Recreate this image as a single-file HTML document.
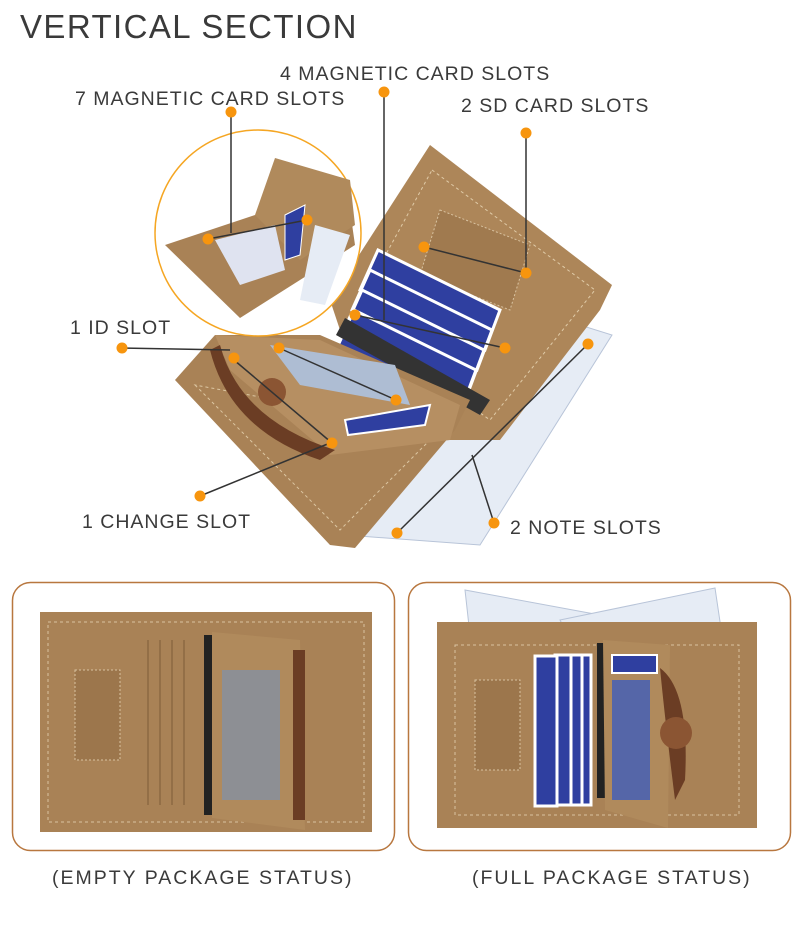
<!DOCTYPE html>
<html><head><meta charset="utf-8"><style>
body{margin:0;background:#fff;width:800px;height:926px;overflow:hidden;font-family:"Liberation Sans",sans-serif}
svg{display:block}
</style></head><body>
<svg width="800" height="926" viewBox="0 0 800 926" xmlns="http://www.w3.org/2000/svg" font-family="Liberation Sans, sans-serif">
<text x="20" y="38" font-size="33" fill="#3a3a3a" letter-spacing="1.4">VERTICAL SECTION</text>
<g font-size="19.5" fill="#3a3a3a" letter-spacing="1">
<text x="280" y="80">4 MAGNETIC CARD SLOTS</text>
<text x="75" y="105">7 MAGNETIC CARD SLOTS</text>
<text x="461" y="112">2 SD CARD SLOTS</text>
<text x="70" y="334">1 ID SLOT</text>
<text x="82" y="528">1 CHANGE SLOT</text>
<text x="510" y="534">2 NOTE SLOTS</text>
</g>
<g font-size="19.5" fill="#3a3a3a" letter-spacing="2">
<text x="52" y="884">(EMPTY PACKAGE STATUS)</text>
<text x="472" y="884">(FULL PACKAGE STATUS)</text>
</g>
<!-- main wallet -->
<polygon points="500,300 612,335 480,545 345,535" fill="#e6ecf5" stroke="#b8c4d8"/>
<polygon points="430,145 612,285 600,310 500,440 420,440 340,330 330,300" fill="#ad8659"/>
<polygon points="432,170 595,290 490,420 350,320" fill="none" stroke="#e0cba8" stroke-dasharray="3,3"/>
<polygon points="440,210 530,245 510,310 420,275" fill="#a07a4f" stroke="#d8c2a0" stroke-dasharray="2,2"/>
<g fill="#2f3fa0" stroke="#fff" stroke-width="3">
<polygon points="378,250 500,310 485,350 360,290"/>
<polygon points="370,270 492,330 477,370 352,310"/>
<polygon points="362,290 484,350 469,390 344,330"/>
<polygon points="354,310 476,370 461,410 336,350"/>
</g>
<polygon points="345,318 490,400 480,415 336,335" fill="#333"/>
<polygon points="175,380 215,335 320,335 470,400 455,430 355,548 330,545" fill="#a98256"/>
<polygon points="195,385 340,530 440,430" fill="none" stroke="#dcc6a2" stroke-dasharray="3,3"/>
<polygon points="215,335 320,340 460,405 450,440 330,455 230,370" fill="#b68f62"/>
<polygon points="270,345 395,365 410,405 300,385" fill="#aebdd3"/>
<polygon points="345,420 430,405 425,425 348,435" fill="#2f3fa0" stroke="#fff" stroke-width="2"/>
<path d="M220,345 Q240,420 335,450 L320,460 Q230,430 210,350Z" fill="#6b3d24"/>
<circle cx="272" cy="392" r="14" fill="#8b5533"/>
<!-- inset circle -->
<circle cx="258" cy="233" r="103" fill="#fff" stroke="#f5a623" stroke-width="1.5"/>
<polygon points="165,245 255,215 350,210 355,245 300,280 240,318" fill="#a98256"/>
<polygon points="255,215 275,158 350,180 355,225 300,260" fill="#b08a5c"/>
<polygon points="215,240 275,225 285,270 240,285" fill="#dfe3f0"/>
<polygon points="285,215 305,205 300,255 285,260" fill="#2f3fa0" stroke="#fff"/>
<polygon points="315,225 350,235 325,305 300,300" fill="#e6ecf5"/>
<!-- leader lines -->
<g stroke="#333" stroke-width="1.5" fill="none">
<line x1="231" y1="112" x2="231" y2="233"/>
<line x1="208" y1="239" x2="307" y2="220"/>
<line x1="384" y1="92" x2="384" y2="320"/>
<line x1="355" y1="315" x2="505" y2="348"/>
<line x1="526" y1="133" x2="526" y2="273"/>
<line x1="424" y1="247" x2="526" y2="273"/>
<line x1="122" y1="348" x2="230" y2="350"/>
<line x1="279" y1="348" x2="396" y2="400"/>
<line x1="234" y1="360" x2="332" y2="443"/>
<line x1="200" y1="496" x2="330" y2="443"/>
<line x1="588" y1="344" x2="397" y2="533"/>
<line x1="494" y1="523" x2="472" y2="455"/>
</g>
<g fill="#f7950e">
<circle cx="231" cy="112" r="5.5"/><circle cx="208" cy="239" r="5.5"/><circle cx="307" cy="220" r="5.5"/>
<circle cx="384" cy="92" r="5.5"/><circle cx="355" cy="315" r="5.5"/><circle cx="505" cy="348" r="5.5"/>
<circle cx="526" cy="133" r="5.5"/><circle cx="424" cy="247" r="5.5"/><circle cx="526" cy="273" r="5.5"/>
<circle cx="122" cy="348" r="5.5"/><circle cx="279" cy="348" r="5.5"/><circle cx="234" cy="358" r="5.5"/>
<circle cx="396" cy="400" r="5.5"/><circle cx="332" cy="443" r="5.5"/><circle cx="200" cy="496" r="5.5"/>
<circle cx="588" cy="344" r="5.5"/><circle cx="397" cy="533" r="5.5"/><circle cx="494" cy="523" r="5.5"/>
</g>
<!-- bottom boxes -->
<rect x="12.5" y="582.5" width="382" height="268" rx="18" fill="#fff" stroke="#b8773f" stroke-width="1.5"/>
<rect x="408.5" y="582.5" width="382" height="268" rx="18" fill="#fff" stroke="#b8773f" stroke-width="1.5"/>
<!-- left wallet -->
<rect x="40" y="612" width="332" height="220" fill="#a98256"/>
<rect x="48" y="622" width="316" height="200" fill="none" stroke="#d9c3a0" stroke-dasharray="3,3"/>
<rect x="75" y="670" width="45" height="90" fill="#9c764c" stroke="#d9c3a0" stroke-dasharray="2,2"/>
<line x1="148" y1="640" x2="148" y2="805" stroke="#7d5c38"/><line x1="160" y1="640" x2="160" y2="805" stroke="#7d5c38"/><line x1="172" y1="640" x2="172" y2="805" stroke="#7d5c38"/><line x1="184" y1="640" x2="184" y2="805" stroke="#7d5c38"/>
<rect x="204" y="635" width="10" height="180" fill="#222"/>
<polygon points="212,632 300,640 305,830 212,818" fill="#b08a5c"/>
<rect x="222" y="670" width="58" height="130" fill="#8d8f94"/>
<rect x="293" y="650" width="12" height="170" fill="#6b3d24"/>
<!-- right wallet -->
<polygon points="465,590 600,615 590,635 470,635" fill="#e6ecf5" stroke="#b8c4d8"/>
<polygon points="560,620 715,588 722,635 570,640" fill="#e6ecf5" stroke="#b8c4d8"/>
<rect x="437" y="622" width="320" height="206" fill="#a98256"/>
<rect x="455" y="645" width="284" height="170" fill="none" stroke="#d9c3a0" stroke-dasharray="3,3"/>
<rect x="475" y="680" width="45" height="90" fill="#9c764c" stroke="#d9c3a0" stroke-dasharray="2,2"/>
<g fill="#2f3fa0" stroke="#fff" stroke-width="3">
<rect x="577" y="655" width="14" height="150"/><rect x="568" y="655" width="14" height="150"/><rect x="555" y="655" width="16" height="150"/><rect x="535" y="656" width="22" height="150"/>
</g>
<rect x="597" y="643" width="8" height="155" fill="#222"/>
<polygon points="603,640 670,645 668,828 605,810" fill="#b08a5c"/>
<rect x="612" y="655" width="45" height="18" fill="#2f3fa0" stroke="#fff" stroke-width="2"/>
<rect x="612" y="680" width="38" height="120" fill="#5566a8"/>
<path d="M660,668 Q690,690 685,780 L675,800 Q665,720 660,668Z" fill="#6b3d24"/>
<circle cx="676" cy="733" r="16" fill="#8b5533"/>
</svg>
</body></html>
